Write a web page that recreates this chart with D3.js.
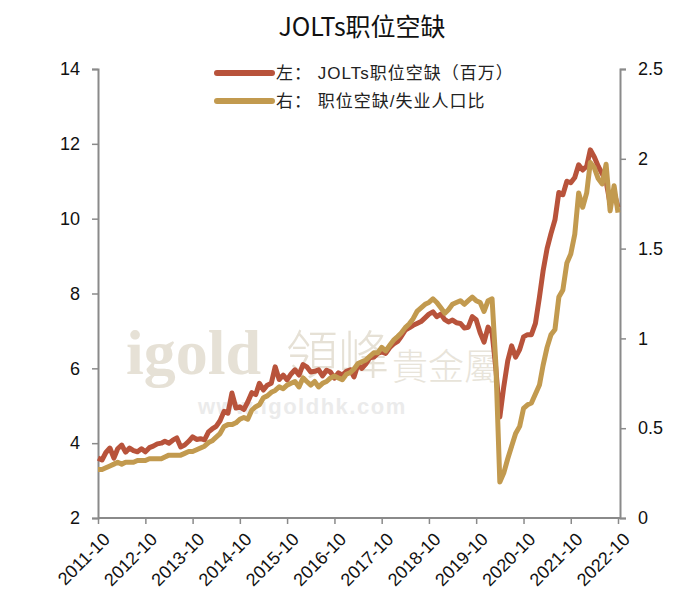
<!DOCTYPE html>
<html><head><meta charset="utf-8">
<script src="https://cdn.jsdelivr.net/npm/d3@7"></script>
<style>
body{margin:0;background:#fff;}
svg{display:block;}
</style></head>
<body>
<svg id="chart" width="700" height="600"></svg>
<script>
const title = "JOLTs职位空缺";
const seriesNames = ["左： JOLTs职位空缺（百万）", "右： 职位空缺/失业人口比"];
const startMonth = "2011-10";
const xTickLabels = ["2011-10","2012-10","2013-10","2014-10","2015-10","2016-10","2017-10","2018-10","2019-10","2020-10","2021-10","2022-10"];
const leftTicks = [2,4,6,8,10,12,14];
const rightTicks = [0,0.5,1,1.5,2,2.5];
// JOLTs job openings, millions (left axis)
const openings = [
3.6,3.55,3.75,3.87,3.6,3.85,3.95,3.76,3.87,3.8,3.77,3.85,
3.77,3.88,3.92,3.98,4.0,4.05,4.0,4.08,4.14,3.9,3.95,4.05,
4.17,4.1,4.12,4.09,4.3,4.38,4.45,4.6,4.85,4.8,5.34,4.94,
4.97,4.9,5.1,5.35,5.3,5.6,5.42,5.55,5.6,6.04,5.7,5.82,
5.69,5.85,5.96,5.82,6.1,6.04,5.9,5.92,5.96,5.8,5.95,5.9,
5.74,5.88,5.82,5.92,5.96,5.77,6.1,6.0,6.12,6.28,6.3,6.4,
6.44,6.4,6.55,6.65,6.72,6.85,7.02,7.08,7.15,7.2,7.25,7.35,
7.45,7.51,7.38,7.45,7.3,7.24,7.29,7.22,7.2,7.08,7.1,7.38,
7.3,6.95,6.7,7.1,6.95,6.0,4.7,5.5,6.2,6.6,6.3,6.5,
6.84,6.9,6.9,7.2,7.9,8.6,9.2,9.6,9.97,10.7,10.64,11.0,
10.96,11.1,11.44,11.3,11.4,11.84,11.65,11.4,11.2,11.0,10.4,10.7,
10.3];
// Openings / unemployed ratio (right axis)
const ratio = [
0.27,0.27,0.28,0.29,0.3,0.31,0.3,0.31,0.31,0.31,0.32,0.32,
0.32,0.33,0.33,0.33,0.33,0.34,0.35,0.35,0.35,0.35,0.36,0.37,
0.37,0.38,0.39,0.4,0.42,0.43,0.45,0.47,0.51,0.52,0.52,0.53,
0.55,0.56,0.55,0.6,0.62,0.63,0.67,0.68,0.7,0.71,0.73,0.72,
0.74,0.75,0.76,0.73,0.78,0.76,0.74,0.76,0.73,0.75,0.76,0.78,
0.79,0.78,0.77,0.8,0.81,0.83,0.86,0.87,0.88,0.9,0.92,0.92,
0.95,0.93,0.96,0.99,1.01,1.03,1.06,1.08,1.11,1.15,1.17,1.19,
1.2,1.22,1.2,1.17,1.14,1.16,1.19,1.2,1.21,1.19,1.21,1.23,
1.21,1.2,1.15,1.21,1.22,0.86,0.2,0.25,0.33,0.4,0.47,0.51,
0.61,0.63,0.64,0.69,0.74,0.85,0.95,1.02,1.05,1.23,1.27,1.42,
1.47,1.58,1.81,1.73,1.81,1.98,1.95,1.89,1.86,1.97,1.71,1.85,
1.70];

const colors = ["#B8533B", "#C29A4F"];
const svg = d3.select("#chart");
const parse = d3.timeParse("%Y-%m");
const t0 = parse(startMonth);
const dates = openings.map((_, i) => d3.timeMonth.offset(t0, i));

const x = d3.scaleTime().domain([parse(xTickLabels[0]), parse(xTickLabels[xTickLabels.length-1])]).range([98, 618]);
const yL = d3.scaleLinear().domain([2, 14]).range([518, 69]);
const yR = d3.scaleLinear().domain([0, 2.5]).range([518, 69]);

// watermark
const wm = svg.append("g").attr("pointer-events","none");
wm.append("text").attr("x",126).attr("y",374).text("igold")
  .attr("font-family","'Liberation Serif', 'DejaVu Serif', serif").attr("font-weight","bold")
  .attr("font-size",64).attr("fill","#E6E1D6");
wm.append("text").attr("x",286).attr("y",374).text("領峰")
  .attr("font-family","'Noto Sans CJK TC', sans-serif").attr("font-weight","300")
  .attr("font-size",52).attr("fill","#E6E1D6");
wm.append("text").attr("x",392).attr("y",380).text("貴金屬")
  .attr("font-family","'Noto Sans CJK TC', sans-serif").attr("font-weight","300")
  .attr("font-size",36).attr("fill","#E8E4DA");
wm.append("text").attr("x",198).attr("y",414).text("www.igoldhk.com")
  .attr("font-family","'Liberation Sans', Arial, sans-serif").attr("font-weight","bold")
  .attr("font-size",22).attr("fill","#EBEBEB").attr("letter-spacing",1.5);

// title
svg.append("text").attr("x",362).attr("y",36).attr("text-anchor","middle")
  .attr("font-family","'Noto Sans CJK SC', sans-serif").attr("font-size",25)
  .attr("fill","#111").text(title);

// axes
const axisColor = "#8a8a8a";
const fontAx = "'Liberation Sans', Arial, sans-serif";
const gL = svg.append("g").attr("transform","translate(98,0)")
  .call(d3.axisLeft(yL).tickValues(leftTicks).tickSize(6).tickPadding(12).tickFormat(d3.format("d")));
const gR = svg.append("g").attr("transform","translate(620,0)")
  .call(d3.axisRight(yR).tickValues(rightTicks).tickSize(6).tickPadding(12).tickFormat(d => String(d)));
const gB = svg.append("g").attr("transform","translate(0,518)")
  .call(d3.axisBottom(x).tickValues(xTickLabels.map(parse)).tickSize(6).tickFormat(d3.timeFormat("%Y-%m")));
[gL,gR,gB].forEach(g => {
  g.select(".domain").attr("stroke",axisColor).attr("stroke-width",2);
  g.selectAll(".tick line").attr("stroke",axisColor).attr("stroke-width",1.5);
  g.selectAll("text").attr("font-family",fontAx).attr("font-size",18).attr("fill","#111");
});
gB.select(".domain").attr("d","M98,0H620");
gB.selectAll(".tick text").attr("text-anchor","end")
  .attr("transform","translate(8,18) rotate(-45)").attr("dy","0.35em").attr("y",0).attr("x",0)
  .attr("font-size",18);

// lines
const lineL = d3.line().x((d,i)=>x(dates[i])).y(d=>yL(d)).curve(d3.curveLinear);
const lineR = d3.line().x((d,i)=>x(dates[i])).y(d=>yR(d)).curve(d3.curveLinear);
svg.append("path").datum(openings).attr("d",lineL).attr("fill","none")
  .attr("stroke",colors[0]).attr("stroke-width",5).attr("stroke-linejoin","round");
svg.append("path").datum(ratio).attr("d",lineR).attr("fill","none")
  .attr("stroke",colors[1]).attr("stroke-width",5).attr("stroke-linejoin","round");

// legend
const leg = svg.append("g");
seriesNames.forEach((n,i) => {
  const yy = 73 + i*28;
  leg.append("line").attr("x1",217).attr("x2",272).attr("y1",yy).attr("y2",yy)
    .attr("stroke",colors[i]).attr("stroke-width",6).attr("stroke-linecap","round");
  leg.append("text").attr("x",276).attr("y",yy).attr("dy","0.35em")
    .attr("font-family","'Liberation Sans', 'Noto Sans CJK SC', sans-serif").attr("font-size",17)
    .attr("letter-spacing",1).attr("fill","#222").text(n);
});
</script>
</body></html>
